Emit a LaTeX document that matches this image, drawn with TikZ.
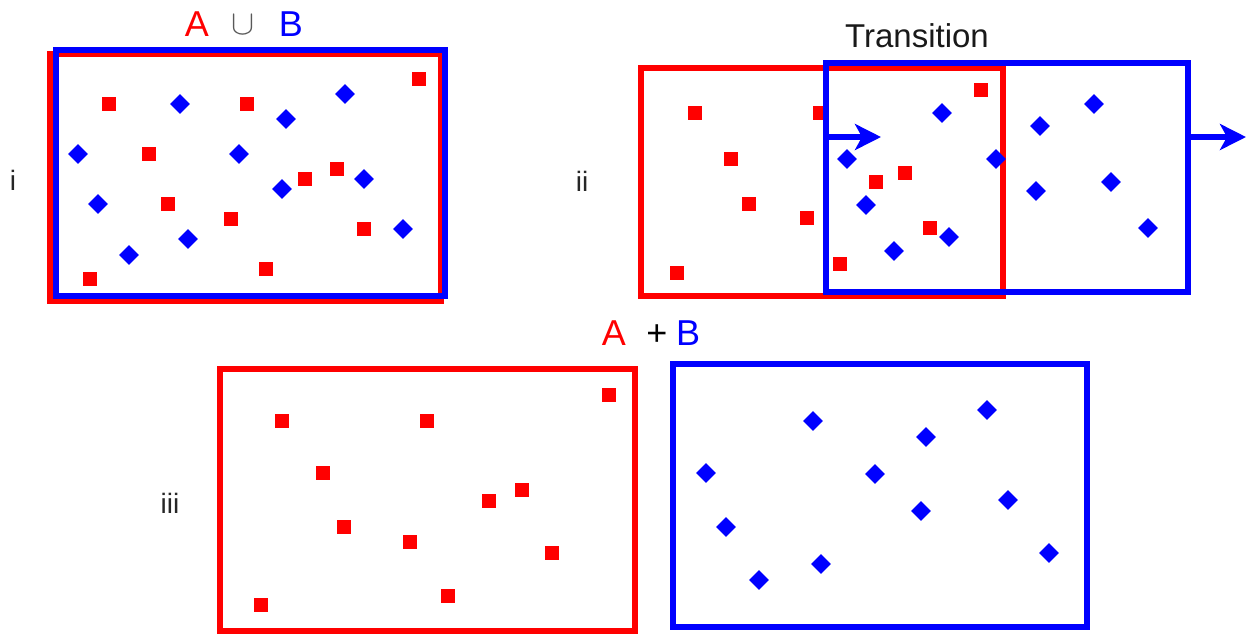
\documentclass[tikz,border=0pt]{standalone}
\usepackage{fontspec}
\setmainfont{Liberation Sans}
\usetikzlibrary{arrows.meta}
\definecolor{pr}{RGB}{255,0,0}
\definecolor{pb}{RGB}{0,0,255}
\begin{document}
\begin{tikzpicture}[x=0.5pt,y=-0.5pt,
  sq/.style={fill=pr, draw=none, minimum size=7pt, inner sep=0pt},
  dm/.style={fill=pb, draw=none, minimum size=7pt, inner sep=0pt, rotate=45},
  rbox/.style={draw=pr, line width=2.8pt},
  bbox/.style={draw=pb, line width=2.8pt},
  arr/.style={draw=pb, line width=2.8pt, -{Stealth[length=13pt,width=13pt,inset=3.5pt]}},
  lbl/.style={inner sep=0pt, anchor=base, font=\fontsize{14}{14}\selectfont, text=black!85},
  big/.style={inner sep=0pt, anchor=base, font=\fontsize{18}{18}\selectfont},
  ttl/.style={inner sep=0pt, anchor=base, font=\fontsize{16.5}{16.5}\selectfont, text=black!90}]
\useasboundingbox (0,0) rectangle (1254,634);
\fill[white] (0,0) rectangle (1254,634);

% ---------------- panel i ----------------
\node[big, text=pr] (tA1) at (197,36) {A};
\node[inner sep=0pt, anchor=base, text=black!65, font=\fontsize{18}{18}\selectfont] (tU) at (243,34) {$\cup$};
\node[big, text=pb] (tB1) at (291,36) {B};
\node[lbl] (li) at (13,190) {i};
\draw[rbox] (50,54) rectangle (441,301);
\draw[bbox] (56,50) rectangle (445,296);
\foreach \x/\y [count=\k] in {419/79,109/104,247/104,149/154,305/179,337/169,168/204,231/219,364/229,90/279,266/269}
  \node[sq] (ia\k) at (\x,\y) {};
\foreach \x/\y [count=\k] in {180/104,345/94,286/119,78/154,239/154,364/179,282/189,98/204,188/239,403/229,129/255}
  \node[dm] (ib\k) at (\x,\y) {};

% ---------------- panel ii ----------------
\node[ttl] (tT) at (917,47) {Transition};
\node[lbl] (lii) at (582,191) {ii};
\draw[rbox] (641,68) rectangle (1003,296);
\foreach \x/\y [count=\k] in {695/113,820/113,731/159,749/204,807/218,677/273,840/264,876/182,905/173,981/90,930/228}
  \node[sq] (iia\k) at (\x,\y) {};
\draw[bbox] (826,63) rectangle (1188,292);
\foreach \x/\y [count=\k] in {942/113,847/159,996/159,866/205,949/237,894/251,1040/126,1094/104,1111/182,1036/191,1148/228}
  \node[dm] (iib\k) at (\x,\y) {};
\coordinate (a1s) at (826,137);
\coordinate (a1e) at (881,137);
\coordinate (a2s) at (1188,137);
\coordinate (a2e) at (1246,137);
\draw[arr] (a1s) -- (a1e);
\draw[arr] (a2s) -- (a2e);

% ---------------- panel iii ----------------
\node[big, text=pr] (tA3) at (614,345) {A};
\node[big, text=black] (tP) at (657,345) {+};
\node[big, text=pb] (tB3) at (688,345) {B};
\node[lbl] (liii) at (170,513) {iii};
\draw[rbox] (220,369) rectangle (635,631);
\foreach \x/\y [count=\k] in {609/395,282/421,427/421,323/473,489/501,522/490,344/527,410/542,552/553,448/596,261/605}
  \node[sq] (iiia\k) at (\x,\y) {};
\draw[bbox] (673,364) rectangle (1087,627);
\foreach \x/\y [count=\k] in {813/421,987/410,926/437,706/473,875/474,1008/500,921/511,726/527,821/564,759/580,1049/553}
  \node[dm] (iiib\k) at (\x,\y) {};
\end{tikzpicture}
\end{document}
